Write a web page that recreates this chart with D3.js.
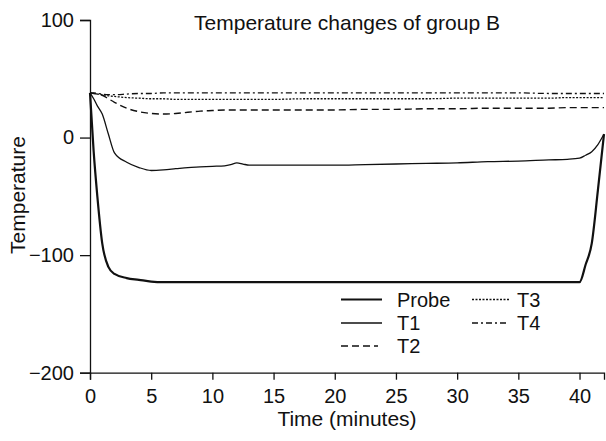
<!DOCTYPE html>
<html lang="en">
<head>
    <meta charset="UTF-8">
    <title>Temperature changes of group B</title>
    <script src="https://cdnjs.cloudflare.com/ajax/libs/d3/7.8.5/d3.min.js"></script>
    <style>
        body {
            margin: 0;
            padding: 0;
            background-color: white;
        }
        svg text {
            font-family: "Liberation Sans", Arial, sans-serif;
            fill: #111;
        }
    </style>
</head>
<body>
  <div id="chart"></div>

  <script>
    // Data (time in minutes, temperature)
    const time   = [0, 0.3, 0.6, 1, 1.5, 2, 3, 4, 5, 6, 7, 8, 9, 10, 11, 11.5, 12, 12.5, 13,
                    15, 17.5, 20, 22.5, 25, 27.5, 30, 32.5, 35, 37.5, 39, 40, 40.5, 41, 41.5, 42];
    const probe  = [38, -12, -50, -90, -110, -116, -119.5, -121, -122.5, -123, -123, -123, -123, -123, -123, -123, -123, -123, -123,
                    -123, -123, -123, -123, -123, -123, -123, -123, -123, -123, -123, -123, -108, -90, -45, 3];
    const t1     = [38, 33, 27, 20, 3, -13, -21, -25.5, -28, -27.5, -26.5, -25.5, -25, -24.5, -24, -23, -21.5, -22.5, -23.5,
                    -23.5, -23.5, -23.5, -23, -22.5, -22, -21.5, -20.5, -20, -19, -18.5, -17.5, -15, -12, -6, 3];
    const t2     = [38, 37.5, 37, 36, 33, 30, 25, 22, 20.5, 20, 20.5, 21.5, 22.5, 23, 23.5, 23.5, 23.5, 23.5, 23.5,
                    23.5, 23.5, 23.5, 24, 24, 24.5, 24.5, 25, 25, 25, 25.5, 25.5, 25.5, 25.5, 25.5, 25.5];
    const t3     = [38, 37.5, 37, 36.5, 35.5, 35, 34, 33.5, 33, 33, 32.5, 32.5, 32.5, 32.5, 32.5, 32.5, 32.5, 32.5, 32.5,
                    32.5, 33, 33, 33, 33, 33, 33.5, 33.5, 33.5, 33.5, 34, 34, 34, 34, 34, 34];
    const t4     = [38, 38, 37.5, 37, 36.5, 36.5, 37, 37.5, 37.5, 38, 38, 38, 38, 38, 38, 38, 38, 38, 38,
                    38, 38, 38, 38, 38, 38, 38, 38, 38, 37.5, 37.5, 37.5, 37.5, 37.5, 37.5, 37.5];

    const seriesNames = ["Probe", "T1", "T2", "T3", "T4"];
    const seriesValues = [probe, t1, t2, t3, t4];
    const xTicks = [0, 5, 10, 15, 20, 25, 30, 35, 40];
    const yTicks = [100, 0, -100, -200];

    // line styles
    const styles = {
        "Probe": { width: 2.2, dash: null },
        "T1":    { width: 1.3, dash: null },
        "T2":    { width: 1.4, dash: "7,4" },
        "T3":    { width: 1.3, dash: "2,1.5" },
        "T4":    { width: 1.3, dash: "6,3,2,3" }
    };

    const width = 606;
    const height = 441;

    const svg = d3.select("#chart")
        .append("svg")
        .attr("width", width)
        .attr("height", height);

    const x = d3.scaleLinear().domain([0, 42]).range([90, 604]);
    const y = d3.scaleLinear().domain([-200, 100]).range([372.7, 20]);

    // axes
    const xAxis = svg.append("g")
        .attr("transform", `translate(0,${y(-200)})`)
        .call(d3.axisBottom(x).tickValues(xTicks).tickSize(7).tickPadding(9));

    const yAxis = svg.append("g")
        .attr("transform", `translate(${x(0)},0)`)
        .call(d3.axisLeft(y).tickValues(yTicks).tickSize(10).tickPadding(6));

    [xAxis, yAxis].forEach(a => {
        a.attr("font-family", null).attr("font-size", 20);
        a.selectAll("path, line").attr("stroke", "#111").attr("stroke-width", 1.3);
        a.selectAll("text").attr("fill", "#111");
    });

    // lines
    const line = d3.line()
        .x((d, i) => x(time[i]))
        .y(d => y(d))
        .curve(d3.curveMonotoneX);

    seriesNames.forEach((name, k) => {
        svg.append("path")
            .datum(seriesValues[k])
            .attr("fill", "none")
            .attr("stroke", "#111")
            .attr("stroke-width", styles[name].width)
            .attr("stroke-dasharray", styles[name].dash)
            .attr("d", line);
    });

    // title and axis labels
    svg.append("text")
        .attr("x", 347)
        .attr("y", 30)
        .attr("text-anchor", "middle")
        .attr("font-size", 21)
        .text("Temperature changes of group B");

    svg.append("text")
        .attr("x", 347)
        .attr("y", 426)
        .attr("text-anchor", "middle")
        .attr("font-size", 21)
        .text("Time (minutes)");

    svg.append("text")
        .attr("transform", "translate(25,195) rotate(-90)")
        .attr("text-anchor", "middle")
        .attr("font-size", 21)
        .text("Temperature");

    // legend
    const legendPos = [
        { x: 341, y: 299.5 },
        { x: 341, y: 323 },
        { x: 341, y: 346 },
        { x: 472, y: 299.5 },
        { x: 472, y: 323 }
    ];
    const legendLen = [41, 41, 37, 37, 37];

    const legend = svg.append("g");
    seriesNames.forEach((name, k) => {
        const p = legendPos[k];
        legend.append("line")
            .attr("x1", p.x)
            .attr("x2", p.x + legendLen[k])
            .attr("y1", p.y)
            .attr("y2", p.y)
            .attr("stroke", "#111")
            .attr("stroke-width", styles[name].width)
            .attr("stroke-dasharray", styles[name].dash);
        legend.append("text")
            .attr("x", p.x + (k < 3 ? 56 : 45))
            .attr("y", p.y + 7)
            .attr("font-size", 20)
            .text(name);
    });
  </script>
</body>
</html>
